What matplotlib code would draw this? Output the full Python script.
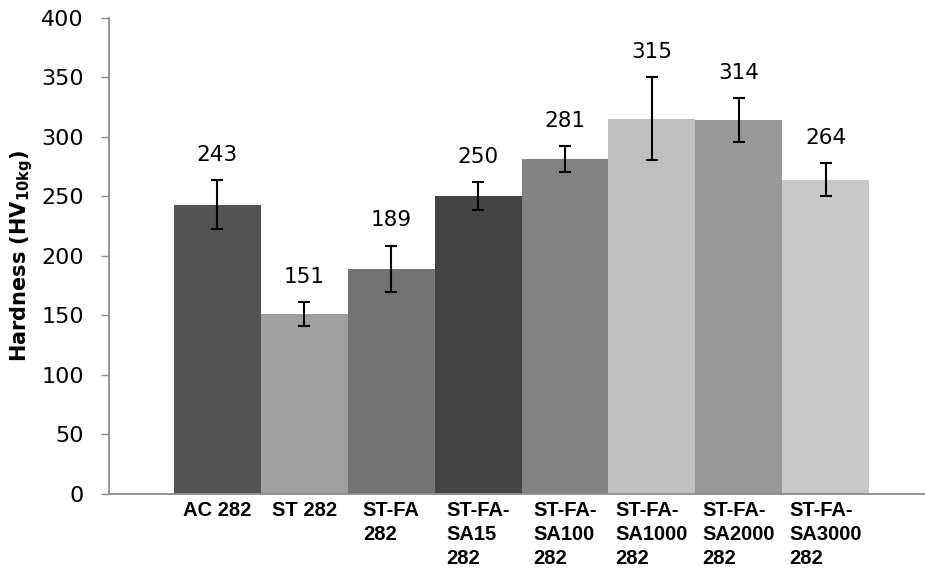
import numpy as np
import matplotlib.pyplot as plt

# hardness data
samples = ['AC 282', 'ST 282', 'ST-FA\n282', 'ST-FA-\nSA15\n282', 'ST-FA-\nSA100\n282',
           'ST-FA-\nSA1000\n282', 'ST-FA-\nSA2000\n282', 'ST-FA-\nSA3000\n282']
hardness = [243, 151, 189, 250, 281, 315, 314, 264]
errors = [20.5, 10, 19.5, 11.5, 11, 35, 18.5, 13.5]
bar_colors = ['#535353', '#a0a0a0', '#737373', '#444444', '#828282',
              '#c0c0c0', '#989898', '#c8c8c8']

#--------------------------------------------------------------------------------------------------

W, H = 925, 572
fig = plt.figure(figsize=(W/100, H/100), dpi=100)
ax = fig.add_axes([109/W, 1 - 494/H, 1 - 109/W, (494 - 17.5)/H])

x = np.arange(len(hardness))
ax.bar(x, hardness, width=1.0, color=bar_colors, zorder=2)
ax.errorbar(x, hardness, yerr=errors, fmt='none', ecolor='black',
            elinewidth=1.5, capsize=4.2, capthick=1.5, zorder=3)

for xi, h, e in zip(x, hardness, errors):
    ax.annotate(str(h), xy=(xi, h + e), xytext=(0, 11), textcoords='offset points',
                ha='center', va='bottom', fontsize=15.5, family='DejaVu Sans')

ax.set_ylim(0, 400)
ax.set_yticks(np.arange(0, 401, 50))
ax.set_xlim(-1.248, 8.144)
ax.set_xticks(x)
ax.set_xticklabels(samples, fontsize=14.5, fontweight='bold', family='Liberation Sans',
                   multialignment='left', linespacing=1.35)

for s in ['top', 'right']:
    ax.spines[s].set_visible(False)
for s in ['left', 'bottom']:
    ax.spines[s].set_color('#8c8c8c')
    ax.spines[s].set_linewidth(1.3)

ax.tick_params(axis='x', length=0, pad=5)
ax.tick_params(axis='y', length=6, width=1, color='#8c8c8c', labelsize=16, pad=12)
for lab in ax.get_yticklabels():
    lab.set_family('DejaVu Sans')

fig.text(22/W, 1 - 256/H, r'Hardness (HV$_{\mathbf{10kg}}$)', rotation=90,
         ha='center', va='center', fontsize=15, fontweight='bold', family='DejaVu Sans')

plt.savefig('out.png', dpi=100)
